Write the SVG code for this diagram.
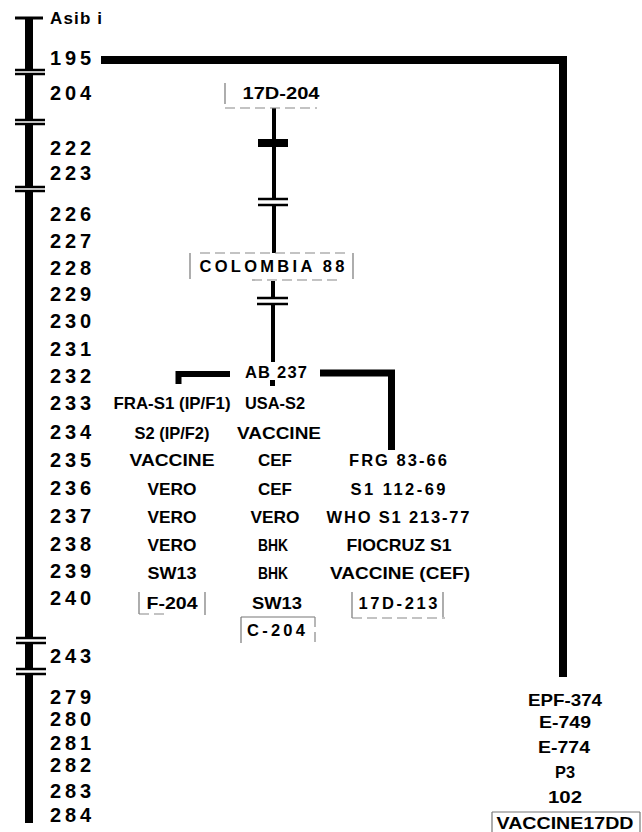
<svg xmlns="http://www.w3.org/2000/svg" width="642" height="832" viewBox="0 0 642 832">
<style>
text{font-family:"Liberation Sans",Arial,sans-serif;fill:#000}
.num{font-size:20px;font-weight:bold}
.lbl{font-size:16.5px;font-weight:bold;text-anchor:middle}
.ln{stroke:#000;fill:none;stroke-linecap:butt}
.brk{stroke:#000;stroke-width:2.5}
.gap{fill:#fff}
.box{stroke:#777;stroke-width:1.2;fill:none}
.dash{stroke:#888;stroke-width:1.2;fill:none;stroke-dasharray:10 5}
</style>
<rect width="642" height="832" fill="#fff"/>

<g id="connectors">
  <line class="ln" x1="29" y1="18" x2="29" y2="823" stroke-width="8"/>
  <line class="ln" x1="15" y1="18" x2="43" y2="18" stroke-width="3"/>
  <rect class="gap" x="20" y="70" width="20" height="4"/>
  <line class="brk" x1="15" y1="70" x2="45" y2="70"/>
  <line class="brk" x1="15" y1="74" x2="45" y2="74"/>
  <rect class="gap" x="20" y="120" width="20" height="4"/>
  <line class="brk" x1="15" y1="120" x2="45" y2="120"/>
  <line class="brk" x1="15" y1="124" x2="45" y2="124"/>
  <rect class="gap" x="20" y="187" width="20" height="4"/>
  <line class="brk" x1="15" y1="187" x2="45" y2="187"/>
  <line class="brk" x1="15" y1="191" x2="45" y2="191"/>
  <rect class="gap" x="20" y="638" width="20" height="5"/>
  <line class="brk" x1="16" y1="638" x2="46" y2="638"/>
  <line class="brk" x1="16" y1="643" x2="46" y2="643"/>
  <rect class="gap" x="20" y="669" width="20" height="5"/>
  <line class="brk" x1="16" y1="669" x2="46" y2="669"/>
  <line class="brk" x1="16" y1="674" x2="46" y2="674"/>

  <path class="ln" d="M101 60 H563 V677" stroke-width="8"/>

  <line class="ln" x1="274" y1="108" x2="274" y2="253" stroke-width="4"/>
  <line class="ln" x1="258" y1="143" x2="288" y2="143" stroke-width="8"/>
  <rect class="gap" x="264" y="200" width="20" height="4"/>
  <line class="brk" x1="258" y1="199" x2="288" y2="199"/>
  <line class="brk" x1="258" y1="205" x2="288" y2="205"/>
  <line class="ln" x1="273" y1="281" x2="273" y2="362" stroke-width="4"/>
  <rect class="gap" x="262" y="299" width="22" height="4"/>
  <line class="brk" x1="257" y1="298" x2="288" y2="298"/>
  <line class="brk" x1="257" y1="304" x2="288" y2="304"/>
  <rect x="270" y="380" width="5" height="6" fill="#000"/>

  <path class="ln" d="M230 374 H178.5 V384" stroke-width="6"/>
  <path class="ln" d="M320 373 H391.5 V450" stroke-width="7"/>
</g>

<g id="axis-labels">
  <text class="num" x="50" y="24" style="font-size:17px" textLength="52">Asib i</text>
  <text class="num" x="50" y="65" textLength="41">195</text>
  <text class="num" x="50" y="100" textLength="41">204</text>
  <text class="num" x="50" y="155" textLength="41">222</text>
  <text class="num" x="50" y="180" textLength="41">223</text>
  <text class="num" x="50" y="221" textLength="41">226</text>
  <text class="num" x="50" y="248" textLength="41">227</text>
  <text class="num" x="50" y="275" textLength="41">228</text>
  <text class="num" x="50" y="301" textLength="41">229</text>
  <text class="num" x="50" y="328" textLength="41">230</text>
  <text class="num" x="50" y="356" textLength="41">231</text>
  <text class="num" x="50" y="383" textLength="41">232</text>
  <text class="num" x="50" y="410" textLength="41">233</text>
  <text class="num" x="50" y="439" textLength="41">234</text>
  <text class="num" x="50" y="467" textLength="41">235</text>
  <text class="num" x="50" y="495" textLength="41">236</text>
  <text class="num" x="50" y="523" textLength="41">237</text>
  <text class="num" x="50" y="551" textLength="41">238</text>
  <text class="num" x="50" y="578" textLength="41">239</text>
  <text class="num" x="50" y="605" textLength="41">240</text>
  <text class="num" x="50" y="663" textLength="41">243</text>
  <text class="num" x="50" y="704" textLength="41">279</text>
  <text class="num" x="50" y="726" textLength="41">280</text>
  <text class="num" x="50" y="750" textLength="41">281</text>
  <text class="num" x="50" y="772" textLength="41">282</text>
  <text class="num" x="50" y="798" textLength="41">283</text>
  <text class="num" x="50" y="822" textLength="41">284</text>
</g>

<g id="node-17D-204">
  <line class="box" x1="225" y1="83" x2="225" y2="104"/>
  <line class="dash" x1="225" y1="108" x2="317" y2="108"/>
  <text class="lbl" x="281" y="99" textLength="77" lengthAdjust="spacingAndGlyphs">17D-204</text>
</g>

<g id="node-colombia88">
  <line class="box" x1="190" y1="253" x2="190" y2="279"/>
  <line class="box" x1="353" y1="253" x2="353" y2="279"/>
  <line class="dash" x1="200" y1="253" x2="350" y2="253"/>
  <line class="dash" x1="252" y1="280" x2="340" y2="280"/>
  <text class="lbl" x="272" y="272" textLength="145">COLOMBIA 88</text>
</g>

<g id="node-ab237">
  <text class="lbl" x="276" y="378" textLength="62">AB 237</text>
</g>

<g id="node-french">
  <text class="lbl" x="172" y="409" textLength="117" lengthAdjust="spacingAndGlyphs">FRA-S1 (IP/F1)</text>
  <text class="lbl" x="172" y="439" textLength="75" lengthAdjust="spacingAndGlyphs">S2 (IP/F2)</text>
  <text class="lbl" x="172" y="466" textLength="85" lengthAdjust="spacingAndGlyphs">VACCINE</text>
  <text class="lbl" x="172" y="495" textLength="49" lengthAdjust="spacingAndGlyphs">VERO</text>
  <text class="lbl" x="172" y="523" textLength="49" lengthAdjust="spacingAndGlyphs">VERO</text>
  <text class="lbl" x="172" y="551" textLength="49" lengthAdjust="spacingAndGlyphs">VERO</text>
  <text class="lbl" x="172" y="579" textLength="49" lengthAdjust="spacingAndGlyphs">SW13</text>
  <line class="box" x1="139" y1="592" x2="139" y2="614"/>
  <line class="box" x1="205" y1="592" x2="205" y2="615"/>
  <line class="dash" x1="139" y1="614" x2="168" y2="614"/>
  <text class="lbl" x="172" y="609" textLength="51" lengthAdjust="spacingAndGlyphs">F-204</text>
</g>

<g id="node-usa">
  <text class="lbl" x="275" y="409" textLength="60" lengthAdjust="spacingAndGlyphs">USA-S2</text>
  <text class="lbl" x="279" y="439" textLength="84" lengthAdjust="spacingAndGlyphs">VACCINE</text>
  <text class="lbl" x="275" y="466" textLength="34" lengthAdjust="spacingAndGlyphs">CEF</text>
  <text class="lbl" x="275" y="495" textLength="34" lengthAdjust="spacingAndGlyphs">CEF</text>
  <text class="lbl" x="275" y="523" textLength="49" lengthAdjust="spacingAndGlyphs">VERO</text>
  <text class="lbl" x="273" y="551" textLength="30" lengthAdjust="spacingAndGlyphs">BHK</text>
  <text class="lbl" x="273" y="579" textLength="30" lengthAdjust="spacingAndGlyphs">BHK</text>
  <text class="lbl" x="277" y="609" textLength="50" lengthAdjust="spacingAndGlyphs">SW13</text>
  <line class="box" x1="241" y1="617" x2="241" y2="643"/>
  <line class="box" x1="241" y1="617" x2="315" y2="617"/>
  <line class="dash" x1="315" y1="617" x2="315" y2="642"/>
  <text class="lbl" x="276" y="636" textLength="58">C-204</text>
</g>

<g id="node-17D-213">
  <text class="lbl" x="398" y="466" textLength="98">FRG 83-66</text>
  <text class="lbl" x="398" y="495" textLength="95">S1 112-69</text>
  <text class="lbl" x="398" y="523" textLength="143">WHO S1 213-77</text>
  <text class="lbl" x="399" y="551" textLength="105" lengthAdjust="spacingAndGlyphs">FIOCRUZ S1</text>
  <text class="lbl" x="400" y="579" textLength="140" lengthAdjust="spacingAndGlyphs">VACCINE (CEF)</text>
  <line class="box" x1="352" y1="592" x2="352" y2="618"/>
  <line class="box" x1="443" y1="592" x2="443" y2="617"/>
  <line class="dash" x1="352" y1="618" x2="445" y2="618"/>
  <text class="lbl" x="398" y="609" textLength="79">17D-213</text>
</g>

<g id="node-17DD">
  <text class="lbl" x="565" y="706" textLength="74" lengthAdjust="spacingAndGlyphs">EPF-374</text>
  <text class="lbl" x="565" y="728" textLength="52" lengthAdjust="spacingAndGlyphs">E-749</text>
  <text class="lbl" x="564" y="753" textLength="52" lengthAdjust="spacingAndGlyphs">E-774</text>
  <text class="lbl" x="565" y="778" textLength="20" lengthAdjust="spacingAndGlyphs">P3</text>
  <text class="lbl" x="565" y="803" textLength="34" lengthAdjust="spacingAndGlyphs">102</text>
  <line class="box" x1="492" y1="812" x2="492" y2="832"/>
  <line class="box" x1="640" y1="812" x2="640" y2="832"/>
  <line class="box" x1="492" y1="812" x2="640" y2="812"/>
  <text class="lbl" x="565" y="829" textLength="137" lengthAdjust="spacingAndGlyphs">VACCINE17DD</text>
</g>
</svg>
